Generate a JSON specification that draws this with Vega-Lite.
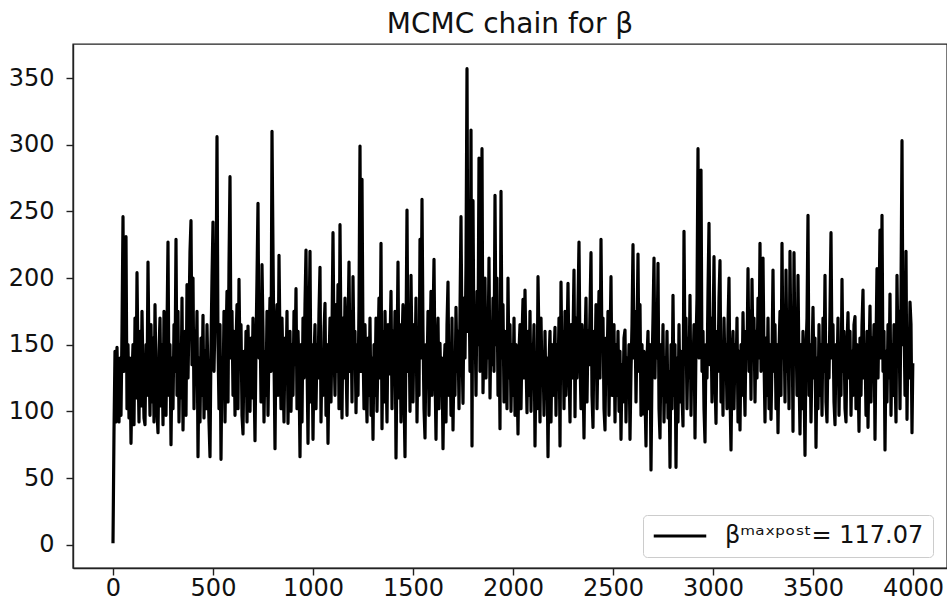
{
"$schema": "https://vega.github.io/schema/vega-lite/v6.json",
"autosize": {"type": "none"},
"padding": {"left": 73, "top": 44, "right": 0, "bottom": 34},
"width": 874,
"height": 524,
"background": "white",
"title": {"text": "MCMC chain for β", "font": "DejaVu Sans", "fontSize": 28, "fontWeight": "normal", "color": "#111", "frame": "group", "anchor": "middle", "offset": 5},
"data": {"values": [
{"t":0,"v":1},{"t":5,"v":85},{"t":10,"v":145},{"t":15,"v":92},{"t":20,"v":148},{"t":25,"v":112},{"t":30,"v":92},{"t":35,"v":140},{"t":40,"v":97},{"t":45,"v":160},{"t":50,"v":246},{"t":55,"v":130},{"t":60,"v":170},{"t":65,"v":231},{"t":70,"v":102},{"t":75,"v":150},{"t":80,"v":95},{"t":85,"v":140},{"t":90,"v":76},{"t":95,"v":125},
{"t":100,"v":150},{"t":105,"v":90},{"t":110,"v":170},{"t":115,"v":110},{"t":120,"v":204},{"t":125,"v":135},{"t":130,"v":92},{"t":135,"v":160},{"t":140,"v":104},{"t":145,"v":175},{"t":150,"v":128},{"t":155,"v":95},{"t":160,"v":90},{"t":165,"v":150},{"t":170,"v":112},{"t":175,"v":212},{"t":180,"v":140},{"t":185,"v":97},{"t":190,"v":165},{"t":195,"v":107},
{"t":200,"v":155},{"t":205,"v":92},{"t":210,"v":180},{"t":215,"v":125},{"t":220,"v":100},{"t":225,"v":84},{"t":230,"v":145},{"t":235,"v":170},{"t":240,"v":104},{"t":245,"v":150},{"t":250,"v":90},{"t":255,"v":175},{"t":260,"v":130},{"t":265,"v":97},{"t":270,"v":160},{"t":275,"v":227},{"t":280,"v":112},{"t":285,"v":150},{"t":290,"v":75},{"t":295,"v":140},
{"t":300,"v":102},{"t":305,"v":165},{"t":310,"v":130},{"t":315,"v":229},{"t":320,"v":112},{"t":325,"v":175},{"t":330,"v":92},{"t":335,"v":150},{"t":340,"v":110},{"t":345,"v":185},{"t":350,"v":86},{"t":355,"v":140},{"t":360,"v":160},{"t":365,"v":97},{"t":370,"v":195},{"t":375,"v":125},{"t":380,"v":170},{"t":385,"v":220},{"t":390,"v":243},{"t":395,"v":135},
{"t":400,"v":200},{"t":405,"v":102},{"t":410,"v":160},{"t":415,"v":128},{"t":420,"v":175},{"t":425,"v":66},{"t":430,"v":140},{"t":435,"v":92},{"t":440,"v":155},{"t":445,"v":112},{"t":450,"v":172},{"t":455,"v":95},{"t":460,"v":145},{"t":465,"v":102},{"t":470,"v":165},{"t":475,"v":125},{"t":480,"v":92},{"t":485,"v":66},{"t":490,"v":150},{"t":495,"v":200},
{"t":500,"v":242},{"t":505,"v":130},{"t":510,"v":170},{"t":515,"v":180},{"t":520,"v":306},{"t":525,"v":150},{"t":530,"v":102},{"t":535,"v":165},{"t":540,"v":64},{"t":545,"v":140},{"t":550,"v":112},{"t":555,"v":175},{"t":560,"v":92},{"t":565,"v":150},{"t":570,"v":190},{"t":575,"v":107},{"t":580,"v":210},{"t":585,"v":276},{"t":590,"v":140},{"t":595,"v":175},
{"t":600,"v":112},{"t":605,"v":160},{"t":610,"v":97},{"t":615,"v":150},{"t":620,"v":180},{"t":625,"v":102},{"t":630,"v":199},{"t":635,"v":135},{"t":640,"v":165},{"t":645,"v":97},{"t":650,"v":83},{"t":655,"v":145},{"t":660,"v":112},{"t":665,"v":160},{"t":670,"v":92},{"t":675,"v":164},{"t":680,"v":130},{"t":685,"v":100},{"t":690,"v":155},{"t":695,"v":110},
{"t":700,"v":170},{"t":705,"v":125},{"t":710,"v":78},{"t":715,"v":150},{"t":720,"v":200},{"t":725,"v":256},{"t":730,"v":140},{"t":735,"v":175},{"t":740,"v":107},{"t":745,"v":210},{"t":750,"v":160},{"t":755,"v":92},{"t":760,"v":145},{"t":765,"v":112},{"t":770,"v":175},{"t":775,"v":97},{"t":780,"v":150},{"t":785,"v":185},{"t":790,"v":130},{"t":795,"v":310},
{"t":800,"v":220},{"t":805,"v":140},{"t":810,"v":72},{"t":815,"v":160},{"t":820,"v":180},{"t":825,"v":112},{"t":830,"v":217},{"t":835,"v":150},{"t":840,"v":102},{"t":845,"v":170},{"t":850,"v":130},{"t":855,"v":92},{"t":860,"v":155},{"t":865,"v":125},{"t":870,"v":175},{"t":875,"v":91},{"t":880,"v":140},{"t":885,"v":160},{"t":890,"v":100},{"t":895,"v":150},
{"t":900,"v":112},{"t":905,"v":175},{"t":910,"v":135},{"t":915,"v":192},{"t":920,"v":102},{"t":925,"v":160},{"t":930,"v":130},{"t":935,"v":66},{"t":940,"v":150},{"t":945,"v":92},{"t":950,"v":170},{"t":955,"v":125},{"t":960,"v":180},{"t":965,"v":221},{"t":970,"v":140},{"t":975,"v":76},{"t":980,"v":160},{"t":985,"v":220},{"t":990,"v":107},{"t":995,"v":150},
{"t":1000,"v":79},{"t":1005,"v":140},{"t":1010,"v":165},{"t":1015,"v":102},{"t":1020,"v":150},{"t":1025,"v":125},{"t":1030,"v":175},{"t":1035,"v":208},{"t":1040,"v":92},{"t":1045,"v":145},{"t":1050,"v":112},{"t":1055,"v":160},{"t":1060,"v":181},{"t":1065,"v":97},{"t":1070,"v":150},{"t":1075,"v":76},{"t":1080,"v":135},{"t":1085,"v":170},{"t":1090,"v":107},{"t":1095,"v":160},
{"t":1100,"v":234},{"t":1105,"v":150},{"t":1110,"v":112},{"t":1115,"v":180},{"t":1120,"v":130},{"t":1125,"v":195},{"t":1130,"v":102},{"t":1135,"v":240},{"t":1140,"v":150},{"t":1145,"v":95},{"t":1150,"v":170},{"t":1155,"v":125},{"t":1160,"v":185},{"t":1165,"v":140},{"t":1170,"v":97},{"t":1175,"v":160},{"t":1180,"v":212},{"t":1185,"v":130},{"t":1190,"v":175},{"t":1195,"v":107},
{"t":1200,"v":201},{"t":1205,"v":140},{"t":1210,"v":160},{"t":1215,"v":99},{"t":1220,"v":150},{"t":1225,"v":112},{"t":1230,"v":180},{"t":1235,"v":299},{"t":1240,"v":130},{"t":1245,"v":274},{"t":1250,"v":150},{"t":1255,"v":102},{"t":1260,"v":165},{"t":1265,"v":125},{"t":1270,"v":92},{"t":1275,"v":155},{"t":1280,"v":112},{"t":1285,"v":170},{"t":1290,"v":97},{"t":1295,"v":140},
{"t":1300,"v":79},{"t":1305,"v":150},{"t":1310,"v":112},{"t":1315,"v":170},{"t":1320,"v":100},{"t":1325,"v":145},{"t":1330,"v":185},{"t":1335,"v":125},{"t":1340,"v":226},{"t":1345,"v":87},{"t":1350,"v":160},{"t":1355,"v":107},{"t":1360,"v":175},{"t":1365,"v":135},{"t":1370,"v":92},{"t":1375,"v":165},{"t":1380,"v":128},{"t":1385,"v":150},{"t":1390,"v":190},{"t":1395,"v":102},
{"t":1400,"v":160},{"t":1405,"v":125},{"t":1410,"v":175},{"t":1415,"v":65},{"t":1420,"v":140},{"t":1425,"v":212},{"t":1430,"v":110},{"t":1435,"v":165},{"t":1440,"v":92},{"t":1445,"v":150},{"t":1450,"v":180},{"t":1455,"v":112},{"t":1460,"v":66},{"t":1465,"v":155},{"t":1470,"v":251},{"t":1475,"v":130},{"t":1480,"v":170},{"t":1485,"v":100},{"t":1490,"v":202},{"t":1495,"v":140},
{"t":1500,"v":107},{"t":1505,"v":165},{"t":1510,"v":130},{"t":1515,"v":185},{"t":1520,"v":92},{"t":1525,"v":150},{"t":1530,"v":112},{"t":1535,"v":229},{"t":1540,"v":140},{"t":1545,"v":259},{"t":1550,"v":160},{"t":1555,"v":102},{"t":1560,"v":80},{"t":1565,"v":150},{"t":1570,"v":125},{"t":1575,"v":175},{"t":1580,"v":97},{"t":1585,"v":145},{"t":1590,"v":190},{"t":1595,"v":112},
{"t":1600,"v":165},{"t":1605,"v":214},{"t":1610,"v":130},{"t":1615,"v":79},{"t":1620,"v":145},{"t":1625,"v":170},{"t":1630,"v":102},{"t":1635,"v":151},{"t":1640,"v":112},{"t":1645,"v":140},{"t":1650,"v":72},{"t":1655,"v":130},{"t":1660,"v":150},{"t":1665,"v":92},{"t":1670,"v":165},{"t":1675,"v":197},{"t":1680,"v":112},{"t":1685,"v":150},{"t":1690,"v":97},{"t":1695,"v":170},
{"t":1700,"v":86},{"t":1705,"v":140},{"t":1710,"v":112},{"t":1715,"v":178},{"t":1720,"v":130},{"t":1725,"v":160},{"t":1730,"v":102},{"t":1735,"v":175},{"t":1740,"v":246},{"t":1745,"v":150},{"t":1750,"v":106},{"t":1755,"v":185},{"t":1760,"v":140},{"t":1765,"v":210},{"t":1770,"v":357},{"t":1775,"v":160},{"t":1780,"v":200},{"t":1785,"v":130},{"t":1790,"v":311},{"t":1795,"v":74},
{"t":1800,"v":258},{"t":1805,"v":140},{"t":1810,"v":175},{"t":1815,"v":112},{"t":1820,"v":190},{"t":1825,"v":150},{"t":1830,"v":290},{"t":1835,"v":130},{"t":1840,"v":180},{"t":1845,"v":297},{"t":1850,"v":114},{"t":1855,"v":160},{"t":1860,"v":200},{"t":1865,"v":125},{"t":1870,"v":175},{"t":1875,"v":140},{"t":1880,"v":215},{"t":1885,"v":110},{"t":1890,"v":165},{"t":1895,"v":135},
{"t":1900,"v":185},{"t":1905,"v":130},{"t":1910,"v":262},{"t":1915,"v":150},{"t":1920,"v":200},{"t":1925,"v":112},{"t":1930,"v":170},{"t":1935,"v":87},{"t":1940,"v":265},{"t":1945,"v":140},{"t":1950,"v":180},{"t":1955,"v":107},{"t":1960,"v":160},{"t":1965,"v":135},{"t":1970,"v":102},{"t":1975,"v":200},{"t":1980,"v":125},{"t":1985,"v":165},{"t":1990,"v":100},{"t":1995,"v":150},
{"t":2000,"v":112},{"t":2005,"v":170},{"t":2010,"v":97},{"t":2015,"v":150},{"t":2020,"v":130},{"t":2025,"v":83},{"t":2030,"v":145},{"t":2035,"v":165},{"t":2040,"v":102},{"t":2045,"v":155},{"t":2050,"v":184},{"t":2055,"v":125},{"t":2060,"v":191},{"t":2065,"v":140},{"t":2070,"v":99},{"t":2075,"v":160},{"t":2080,"v":112},{"t":2085,"v":175},{"t":2090,"v":100},{"t":2095,"v":150},
{"t":2100,"v":130},{"t":2105,"v":165},{"t":2110,"v":74},{"t":2115,"v":140},{"t":2120,"v":102},{"t":2125,"v":201},{"t":2130,"v":150},{"t":2135,"v":92},{"t":2140,"v":170},{"t":2145,"v":125},{"t":2150,"v":145},{"t":2155,"v":97},{"t":2160,"v":160},{"t":2165,"v":110},{"t":2170,"v":140},{"t":2175,"v":66},{"t":2180,"v":135},{"t":2185,"v":160},{"t":2190,"v":92},{"t":2195,"v":150},
{"t":2200,"v":112},{"t":2205,"v":140},{"t":2210,"v":163},{"t":2215,"v":97},{"t":2220,"v":150},{"t":2225,"v":125},{"t":2230,"v":170},{"t":2235,"v":74},{"t":2240,"v":197},{"t":2245,"v":130},{"t":2250,"v":160},{"t":2255,"v":102},{"t":2260,"v":175},{"t":2265,"v":112},{"t":2270,"v":150},{"t":2275,"v":196},{"t":2280,"v":135},{"t":2285,"v":92},{"t":2290,"v":165},{"t":2295,"v":125},
{"t":2300,"v":155},{"t":2305,"v":206},{"t":2310,"v":96},{"t":2315,"v":170},{"t":2320,"v":125},{"t":2325,"v":180},{"t":2330,"v":227},{"t":2335,"v":140},{"t":2340,"v":102},{"t":2345,"v":165},{"t":2350,"v":130},{"t":2355,"v":80},{"t":2360,"v":150},{"t":2365,"v":185},{"t":2370,"v":107},{"t":2375,"v":160},{"t":2380,"v":135},{"t":2385,"v":175},{"t":2390,"v":219},{"t":2395,"v":112},
{"t":2400,"v":88},{"t":2405,"v":160},{"t":2410,"v":130},{"t":2415,"v":180},{"t":2420,"v":102},{"t":2425,"v":150},{"t":2430,"v":190},{"t":2435,"v":125},{"t":2440,"v":229},{"t":2445,"v":145},{"t":2450,"v":170},{"t":2455,"v":102},{"t":2460,"v":86},{"t":2465,"v":155},{"t":2470,"v":130},{"t":2475,"v":175},{"t":2480,"v":97},{"t":2485,"v":150},{"t":2490,"v":201},{"t":2495,"v":112},
{"t":2500,"v":140},{"t":2505,"v":165},{"t":2510,"v":92},{"t":2515,"v":150},{"t":2520,"v":112},{"t":2525,"v":160},{"t":2530,"v":100},{"t":2535,"v":145},{"t":2540,"v":79},{"t":2545,"v":135},{"t":2550,"v":107},{"t":2555,"v":155},{"t":2560,"v":161},{"t":2565,"v":92},{"t":2570,"v":140},{"t":2575,"v":112},{"t":2580,"v":150},{"t":2585,"v":79},{"t":2590,"v":130},{"t":2595,"v":165},
{"t":2600,"v":225},{"t":2605,"v":140},{"t":2610,"v":175},{"t":2615,"v":107},{"t":2620,"v":160},{"t":2625,"v":218},{"t":2630,"v":130},{"t":2635,"v":180},{"t":2640,"v":97},{"t":2645,"v":150},{"t":2650,"v":98},{"t":2655,"v":145},{"t":2660,"v":112},{"t":2665,"v":74},{"t":2670,"v":140},{"t":2675,"v":160},{"t":2680,"v":102},{"t":2685,"v":150},{"t":2690,"v":56},{"t":2695,"v":130},
{"t":2700,"v":170},{"t":2705,"v":215},{"t":2710,"v":125},{"t":2715,"v":180},{"t":2720,"v":140},{"t":2725,"v":211},{"t":2730,"v":102},{"t":2735,"v":80},{"t":2740,"v":150},{"t":2745,"v":112},{"t":2750,"v":165},{"t":2755,"v":92},{"t":2760,"v":140},{"t":2765,"v":107},{"t":2770,"v":160},{"t":2775,"v":95},{"t":2780,"v":130},{"t":2785,"v":58},{"t":2790,"v":150},{"t":2795,"v":102},
{"t":2800,"v":187},{"t":2805,"v":112},{"t":2810,"v":150},{"t":2815,"v":58},{"t":2820,"v":140},{"t":2825,"v":92},{"t":2830,"v":165},{"t":2835,"v":107},{"t":2840,"v":145},{"t":2845,"v":112},{"t":2850,"v":89},{"t":2855,"v":235},{"t":2860,"v":140},{"t":2865,"v":170},{"t":2870,"v":102},{"t":2875,"v":155},{"t":2880,"v":125},{"t":2885,"v":187},{"t":2890,"v":97},{"t":2895,"v":150},
{"t":2900,"v":130},{"t":2905,"v":165},{"t":2910,"v":80},{"t":2915,"v":150},{"t":2920,"v":185},{"t":2925,"v":297},{"t":2930,"v":140},{"t":2935,"v":175},{"t":2940,"v":281},{"t":2945,"v":130},{"t":2950,"v":160},{"t":2955,"v":102},{"t":2960,"v":77},{"t":2965,"v":150},{"t":2970,"v":125},{"t":2975,"v":190},{"t":2980,"v":241},{"t":2985,"v":135},{"t":2990,"v":170},{"t":2995,"v":107},
{"t":3000,"v":155},{"t":3005,"v":216},{"t":3010,"v":125},{"t":3015,"v":91},{"t":3020,"v":160},{"t":3025,"v":130},{"t":3030,"v":185},{"t":3035,"v":213},{"t":3040,"v":107},{"t":3045,"v":150},{"t":3050,"v":97},{"t":3055,"v":170},{"t":3060,"v":130},{"t":3065,"v":150},{"t":3070,"v":102},{"t":3075,"v":165},{"t":3080,"v":200},{"t":3085,"v":112},{"t":3090,"v":71},{"t":3095,"v":140},
{"t":3100,"v":160},{"t":3105,"v":102},{"t":3110,"v":150},{"t":3115,"v":125},{"t":3120,"v":170},{"t":3125,"v":92},{"t":3130,"v":145},{"t":3135,"v":86},{"t":3140,"v":150},{"t":3145,"v":112},{"t":3150,"v":174},{"t":3155,"v":130},{"t":3160,"v":97},{"t":3165,"v":160},{"t":3170,"v":140},{"t":3175,"v":207},{"t":3180,"v":130},{"t":3185,"v":175},{"t":3190,"v":109},{"t":3195,"v":199},
{"t":3200,"v":140},{"t":3205,"v":170},{"t":3210,"v":107},{"t":3215,"v":160},{"t":3220,"v":125},{"t":3225,"v":185},{"t":3230,"v":140},{"t":3235,"v":226},{"t":3240,"v":130},{"t":3245,"v":165},{"t":3250,"v":215},{"t":3255,"v":140},{"t":3260,"v":92},{"t":3265,"v":155},{"t":3270,"v":112},{"t":3275,"v":170},{"t":3280,"v":102},{"t":3285,"v":150},{"t":3290,"v":94},{"t":3295,"v":140},
{"t":3300,"v":206},{"t":3305,"v":130},{"t":3310,"v":165},{"t":3315,"v":102},{"t":3320,"v":150},{"t":3325,"v":84},{"t":3330,"v":145},{"t":3335,"v":175},{"t":3340,"v":112},{"t":3345,"v":226},{"t":3350,"v":140},{"t":3355,"v":170},{"t":3360,"v":107},{"t":3365,"v":206},{"t":3370,"v":130},{"t":3375,"v":160},{"t":3380,"v":102},{"t":3385,"v":220},{"t":3390,"v":135},{"t":3395,"v":175},
{"t":3400,"v":85},{"t":3405,"v":219},{"t":3410,"v":140},{"t":3415,"v":165},{"t":3420,"v":112},{"t":3425,"v":202},{"t":3430,"v":130},{"t":3435,"v":83},{"t":3440,"v":150},{"t":3445,"v":102},{"t":3450,"v":160},{"t":3455,"v":125},{"t":3460,"v":67},{"t":3465,"v":145},{"t":3470,"v":170},{"t":3475,"v":247},{"t":3480,"v":112},{"t":3485,"v":150},{"t":3490,"v":92},{"t":3495,"v":140},
{"t":3500,"v":178},{"t":3505,"v":125},{"t":3510,"v":155},{"t":3515,"v":73},{"t":3520,"v":140},{"t":3525,"v":102},{"t":3530,"v":165},{"t":3535,"v":112},{"t":3540,"v":150},{"t":3545,"v":97},{"t":3550,"v":170},{"t":3555,"v":130},{"t":3560,"v":202},{"t":3565,"v":107},{"t":3570,"v":92},{"t":3575,"v":150},{"t":3580,"v":125},{"t":3585,"v":175},{"t":3590,"v":234},{"t":3595,"v":140},
{"t":3600,"v":165},{"t":3605,"v":107},{"t":3610,"v":90},{"t":3615,"v":150},{"t":3620,"v":125},{"t":3625,"v":170},{"t":3630,"v":97},{"t":3635,"v":145},{"t":3640,"v":112},{"t":3645,"v":199},{"t":3650,"v":130},{"t":3655,"v":160},{"t":3660,"v":102},{"t":3665,"v":92},{"t":3670,"v":150},{"t":3675,"v":174},{"t":3680,"v":125},{"t":3685,"v":160},{"t":3690,"v":97},{"t":3695,"v":145},
{"t":3700,"v":112},{"t":3705,"v":165},{"t":3710,"v":171},{"t":3715,"v":102},{"t":3720,"v":150},{"t":3725,"v":130},{"t":3730,"v":85},{"t":3735,"v":155},{"t":3740,"v":112},{"t":3745,"v":165},{"t":3750,"v":191},{"t":3755,"v":125},{"t":3760,"v":150},{"t":3765,"v":97},{"t":3770,"v":160},{"t":3775,"v":88},{"t":3780,"v":140},{"t":3785,"v":179},{"t":3790,"v":107},{"t":3795,"v":155},
{"t":3800,"v":130},{"t":3805,"v":165},{"t":3810,"v":79},{"t":3815,"v":150},{"t":3820,"v":207},{"t":3825,"v":125},{"t":3830,"v":175},{"t":3835,"v":236},{"t":3840,"v":140},{"t":3845,"v":247},{"t":3850,"v":130},{"t":3855,"v":160},{"t":3860,"v":71},{"t":3865,"v":145},{"t":3870,"v":107},{"t":3875,"v":165},{"t":3880,"v":125},{"t":3885,"v":188},{"t":3890,"v":97},{"t":3895,"v":150},
{"t":3900,"v":112},{"t":3905,"v":165},{"t":3910,"v":130},{"t":3915,"v":92},{"t":3920,"v":202},{"t":3925,"v":140},{"t":3930,"v":175},{"t":3935,"v":102},{"t":3940,"v":190},{"t":3945,"v":303},{"t":3950,"v":150},{"t":3955,"v":170},{"t":3960,"v":112},{"t":3965,"v":220},{"t":3970,"v":94},{"t":3975,"v":160},{"t":3980,"v":125},{"t":3985,"v":182},{"t":3990,"v":165},{"t":3995,"v":84},{"t":3999,"v":136}
]},
"mark": {"type": "line", "strokeWidth": 3.2, "strokeJoin": "round", "strokeCap": "butt"},
"encoding": {
"x": {"field": "t", "type": "quantitative", "scale": {"domain": [-200, 4170], "nice": false, "zero": false},
"axis": {"values": [0, 500, 1000, 1500, 2000, 2500, 3000, 3500, 4000], "format": "d", "labelPadding": 1, "labelFlush": false, "labelOverlap": false}},
"y": {"field": "v", "type": "quantitative", "scale": {"domain": [-17.5, 375.5], "nice": false, "zero": false},
"axis": {"values": [0, 50, 100, 150, 200, 250, 300, 350], "labelPadding": 12, "labelFlush": false, "labelOverlap": false}},
"color": {"datum": "βᵐᵃˣᵖᵒˢᵗ= 117.07", "type": "nominal", "scale": {"range": ["black"]},
"legend": {"title": null, "orient": "none", "legendX": 570, "legendY": 471, "symbolType": "M-2.5,0H2.5", "symbolSize": 441, "symbolOffset": 16, "symbolStrokeWidth": 2.8, "symbolStrokeColor": "black", "symbolFillColor": "black", "labelFont": "DejaVu Sans", "labelFontSize": 24, "labelColor": "#111", "labelOffset": 33, "padding": 9, "strokeColor": "#cccccc", "cornerRadius": 4, "fillColor": "white", "labelLimit": 400}}
},
"config": {
"font": "DejaVu Sans",
"view": {"stroke": "#222", "strokeWidth": 1.4},
"axis": {"grid": false, "title": null, "labelFont": "DejaVu Sans", "labelFontSize": 24, "labelColor": "#111", "tickColor": "#222", "tickSize": 7, "tickWidth": 1.4, "domainColor": "#222", "domainWidth": 1.4}
}
}
